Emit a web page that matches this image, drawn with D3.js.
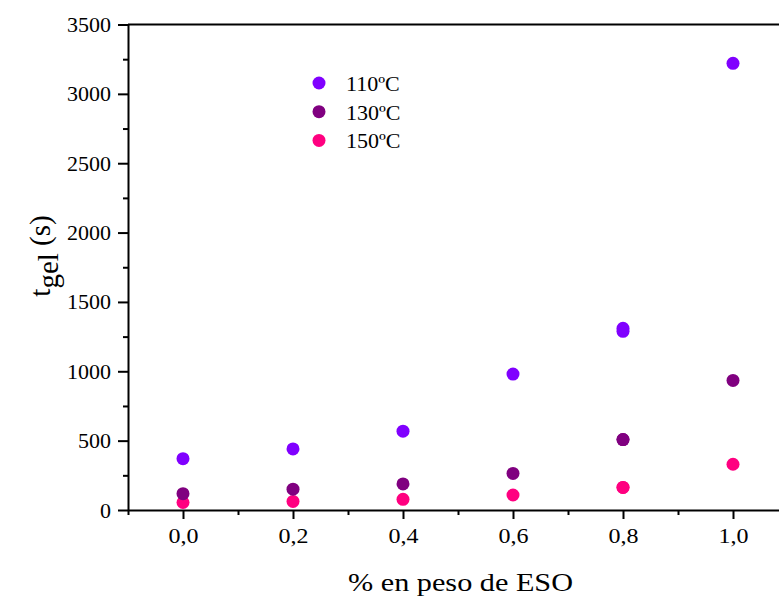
<!DOCTYPE html>
<html>
<head>
<meta charset="utf-8">
<script src="https://cdn.jsdelivr.net/npm/d3@7"></script>
<style>
  html, body { margin: 0; padding: 0; background: #fff; }
  svg { display: block; }
</style>
</head>
<body>
<div id="chart"></div>
<script>
// ESO weight fraction (%) for each measurement
const esoPct = [0.0, 0.2, 0.4, 0.6, 0.8, 0.8, 1.0];
// gel time (s) at each temperature
const gel110 = [370, 440, 568, 980, 1288, 1310, 3220];
const gel130 = [118, 150, 188, 264, 508, 508, 934];
const gel150 = [54, 62, 77, 108, 163, 163, 330];

const seriesNames = ["110ºC", "130ºC", "150ºC"];
const seriesColors = ["#8000ff", "#800080", "#ff0080"];
const xTicks = [0.0, 0.2, 0.4, 0.6, 0.8, 1.0];
const yTicks = [0, 500, 1000, 1500, 2000, 2500, 3000, 3500];

const FONT = "'Liberation Serif', 'Times New Roman', 'DejaVu Serif', serif";
const W = 779, H = 596;
const svg = d3.select("#chart").append("svg").attr("width", W).attr("height", H)
  .style("font-family", FONT);

const x = d3.scaleLinear().domain([-0.1, 1.1]).range([128, 788]);
const y = d3.scaleLinear().domain([0, 3500]).range([510, 24.5]);

const fmtX = d => d3.format(".1f")(d).replace(".", ",");

// bottom axis: major + minor ticks
const xAxis = svg.append("g").attr("transform", `translate(0,${y(0)})`)
  .call(d3.axisBottom(x).tickValues(xTicks).tickFormat(fmtX).tickSize(9).tickPadding(9).tickSizeOuter(0));
svg.append("g").attr("transform", `translate(0,${y(0)})`)
  .call(d3.axisBottom(x).tickValues(d3.range(-0.1, 1.15, 0.2)).tickFormat("").tickSize(5).tickSizeOuter(0))
  .call(g => g.select(".domain").remove());

// left axis: major + minor ticks
const yAxis = svg.append("g").attr("transform", `translate(${x(-0.1)},0)`)
  .call(d3.axisLeft(y).tickValues(yTicks).tickFormat(d3.format("d")).tickSize(10).tickPadding(7).tickSizeOuter(0));
svg.append("g").attr("transform", `translate(${x(-0.1)},0)`)
  .call(d3.axisLeft(y).tickValues(d3.range(250, 3500, 500)).tickFormat("").tickSize(5).tickSizeOuter(0))
  .call(g => g.select(".domain").remove());

// top frame line
svg.append("line").attr("x1", x(-0.1)).attr("x2", W).attr("y1", y(3500)).attr("y2", y(3500))
  .attr("stroke", "#000").attr("stroke-width", 2);

svg.selectAll(".domain, .tick line").attr("stroke", "#000").attr("stroke-width", 2);
svg.selectAll("g").attr("font-family", FONT);
yAxis.selectAll("text").style("font-family", FONT).style("font-size", "22px").attr("fill", "#000");
xAxis.selectAll("text").style("font-family", FONT).style("font-size", "21px").attr("fill", "#000")
  .attr("textLength", 30).attr("lengthAdjust", "spacingAndGlyphs");

// scatter points
const allSeries = [gel110, gel130, gel150];
allSeries.slice().reverse().forEach((vals, ri) => {
  const i = allSeries.length - 1 - ri;
  svg.append("g").selectAll("circle").data(vals).join("circle")
    .attr("cx", (d, j) => x(esoPct[j]))
    .attr("cy", d => y(d))
    .attr("r", 6.5)
    .attr("fill", seriesColors[i]);
});

// legend
const leg = svg.append("g");
seriesNames.forEach((name, i) => {
  const ly = 83 + i * 28.7;
  leg.append("circle").attr("cx", 319).attr("cy", ly).attr("r", 6.5).attr("fill", seriesColors[i]);
  leg.append("text").attr("x", 346).attr("y", ly + 8)
    .style("font-family", FONT).style("font-size", "22px").text(name);
});

// axis titles
svg.append("text").attr("x", 460.5).attr("y", 591).attr("text-anchor", "middle")
  .attr("textLength", 225).attr("lengthAdjust", "spacingAndGlyphs")
  .style("font-family", FONT).style("font-size", "26px").text("% en peso de ESO");

const yt = svg.append("text").attr("transform", "translate(50,256) rotate(-90)")
  .attr("text-anchor", "middle").style("font-family", FONT).style("font-size", "29px");
yt.append("tspan").text("t");
yt.append("tspan").attr("dy", 8).text("gel");
yt.append("tspan").attr("dy", -8).text(" (s)");
</script>
</body>
</html>
